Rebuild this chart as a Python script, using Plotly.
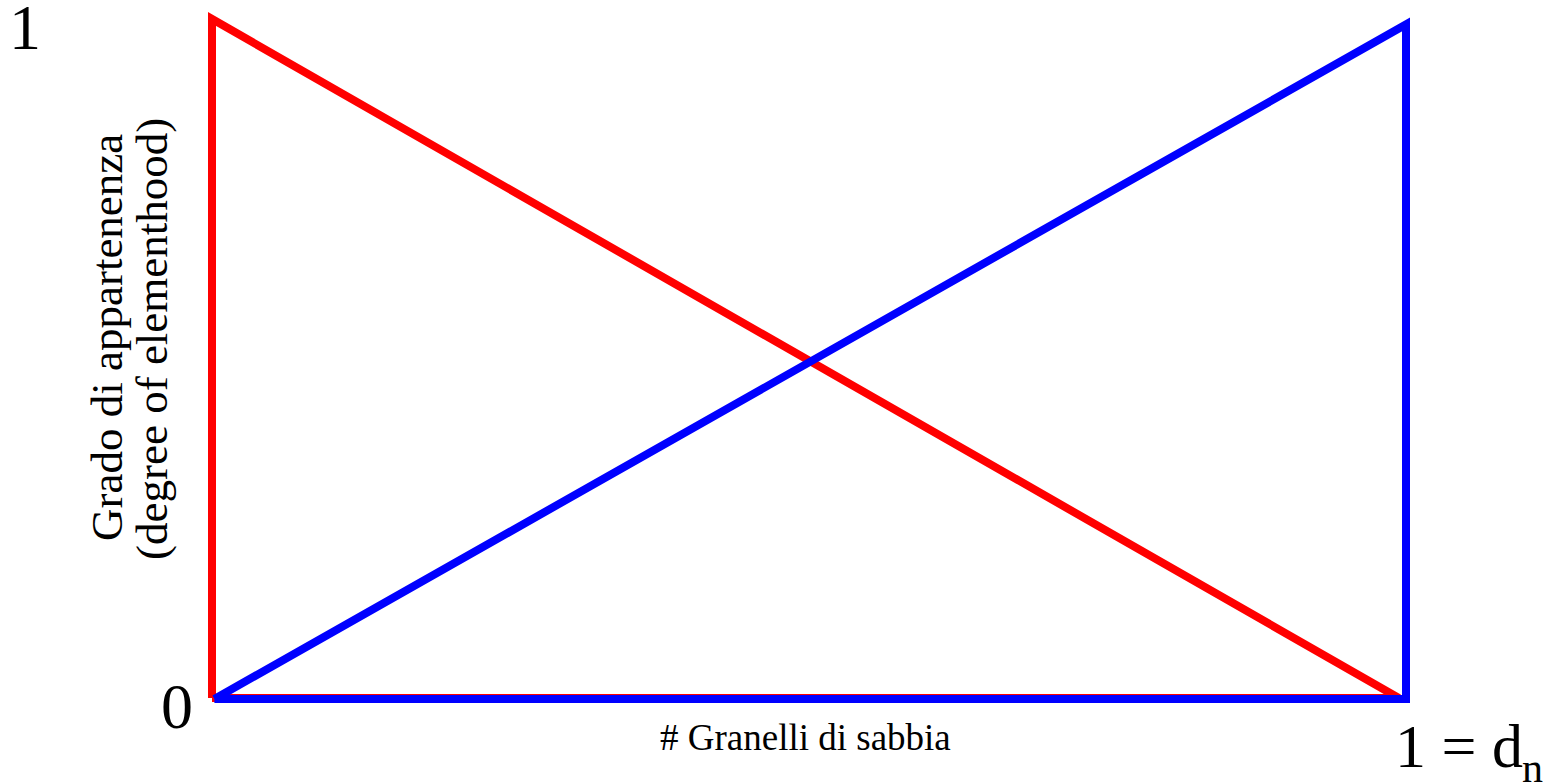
import plotly.graph_objects as go

# membership triangles (x = normalised grains of sand, y = degree of membership)
red_x = [0, 0, 0.994, 0]
red_y = [0, 1, 0, 0]
blue_x = [0.002, 1, 1, 0.002]
blue_y = [-0.0015, 0.992, -0.0015, -0.0015]

serif = "Liberation Serif, Times New Roman, serif"

W, H = 1543, 783
L, R, T, B = 200, 125, 10, 76
x0_px, x1_px = 212, 1406     # where x=0 and x=1 land on the page
y0_px, y1_px = 698, 19       # where y=0 and y=1 land on the page
pl, pr, pt, pb = L, W - R, T, H - B
sx = (x1_px - x0_px)
sy = (y0_px - y1_px)
xr = [(pl - x0_px) / sx, (pr - x0_px) / sx]
yr = [(y0_px - pb) / sy, (y0_px - pt) / sy]

fig = go.Figure()
fig.add_trace(go.Scatter(x=red_x, y=red_y, mode="lines", hoverinfo="skip",
                         line=dict(color="#ff0000", width=8), showlegend=False))
fig.add_trace(go.Scatter(x=blue_x, y=blue_y, mode="lines", hoverinfo="skip",
                         line=dict(color="#0000ff", width=8), showlegend=False))


def ann(text, px, py, size, angle=0, xanchor="center"):
    fig.add_annotation(text=text, x=(px - pl) / (pr - pl), y=(pb - py) / (pb - pt),
                       xref="paper", yref="paper",
                       showarrow=False, textangle=angle,
                       xanchor=xanchor, yanchor="middle",
                       font=dict(family=serif, size=size, color="black"))


ann("1", 25, 27, 64)
ann("0", 177, 706, 64)
ann("1 = d", 1393, 746, 62, xanchor="left")
ann("n", 1520, 768, 42, xanchor="left")
ann("# Granelli di sabbia", 805, 737, 37)
ann("Grado di appartenenza", 107, 338, 45, -90)
ann("(degree of elementhood)", 152, 339, 45, -90)

fig.update_xaxes(range=xr, visible=False)
fig.update_yaxes(range=yr, visible=False)
fig.update_layout(width=W, height=H,
                  margin=dict(l=L, r=R, t=T, b=B),
                  plot_bgcolor="white", paper_bgcolor="white")

fig.write_html("out.html", config={"displayModeBar": False},
               post_script="document.body.style.margin='0';")
